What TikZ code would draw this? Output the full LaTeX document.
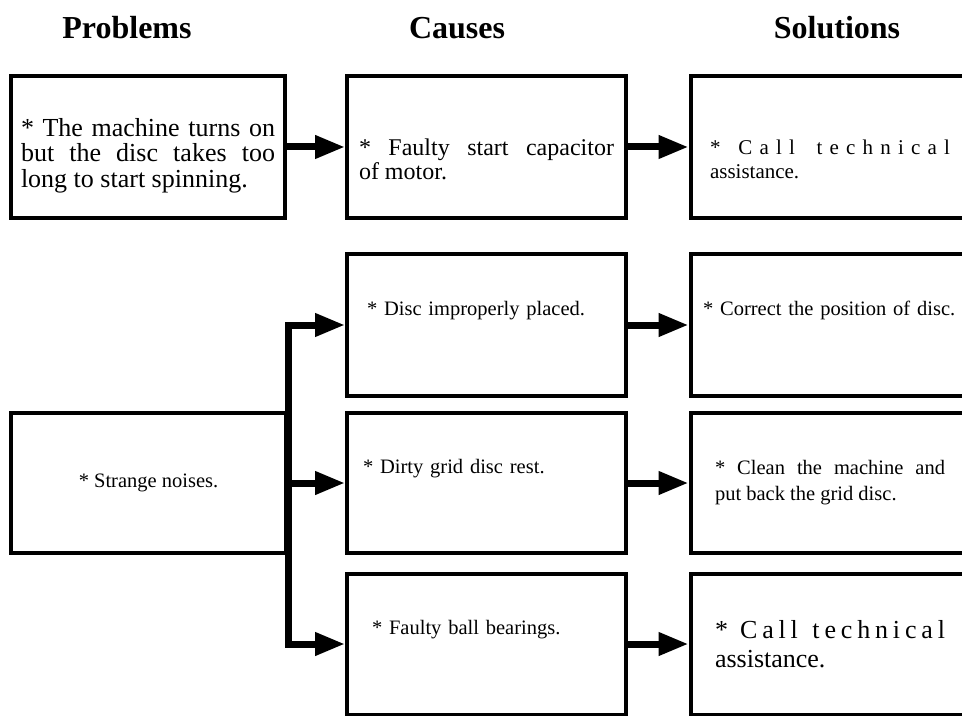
\documentclass[tikz,border=0pt]{standalone}
\usepackage{fontspec}
\setmainfont{Liberation Serif}
\usetikzlibrary{arrows.meta}

\tikzset{bx/.style={draw, line width=2pt, rectangle, minimum width=139.5pt, minimum height=71pt, inner sep=0pt}}
\tikzset{fl/.style={line width=3.5pt, -{Triangle[length=15pt,width=11pt]}}}
\tikzset{lift/.style={text depth=17pt}, drop/.style={text depth=-8pt}}
\tikzset{hd/.style={font=\fontsize{16}{18}\selectfont\bfseries}}
\newcommand\spreadcall{\hbox to \hsize{*\hskip 0pt plus 2.5fill C\hfill a\hfill l\hfill l\hskip 0pt plus 3fill t\hfill e\hfill c\hfill h\hfill n\hfill i\hfill c\hfill a\hfill l}}

\begin{document}
\begin{tikzpicture}[x=0.5pt, y=-0.5pt]
\useasboundingbox (0,0) rectangle (962,716);
\clip (0,0) rectangle (962,716);
\tikzstyle{sm}=[font=\fontsize{10.25}{13}\selectfont]
% column titles
\node[hd] (hp) at (127,28) {Problems};
\node[hd] (hc) at (457,28) {Causes};
\node[hd] (hs) at (837,28) {Solutions};
% first problem
\node[bx, text depth=20pt, minimum width=137pt, text width=127pt, align=justify, font=\fontsize{13}{12.75}\selectfont] (p1) at (148,147)
  {* The machine turns on\linebreak but the disc takes too\linebreak long to start spinning.};
\node[bx, drop, text width=127.5pt, align=justify, font=\fontsize{12}{12}\selectfont] (c1) at (486.5,147)
  {* Faulty start capacitor\linebreak of motor.};
\node[bx, drop, text width=120pt, align=left, font=\fontsize{10.5}{12}\selectfont] (s1) at (830,147)
  {\spreadcall\\assistance.};
% second problem
\node[bx, sm, minimum width=137.5pt, minimum height=70pt, align=center] (p2) at (148.5,483) {* Strange noises.};
\node[bx, sm, lift, text width=119.5pt, align=left] (c2) at (486.5,325) {* Disc improperly placed.};
\node[bx, sm, lift, minimum height=70pt, text width=123.5pt, align=left] (c3) at (486.5,483) {* Dirty grid disc rest.};
\node[bx, sm, lift, minimum height=70.5pt, text width=114.5pt, align=left] (c4) at (486.5,644) {* Faulty ball bearings.};
\node[bx, sm, lift, text width=127pt, align=left] (s2) at (830,325) {* Correct the position of disc.};
\node[bx, sm, minimum height=70pt, text width=115pt, align=justify] (s3) at (830,483)
  {* Clean the machine and\linebreak put back the grid disc.};
\node[bx, minimum height=70.5pt, text width=115pt, align=left, font=\fontsize{13}{14.5}\selectfont] (s4) at (830,644)
  {\spreadcall\\assistance.};
% arrows
\draw[fl] (p1) -- (c1);
\draw[fl] (c1) -- (s1);
\draw[fl, {Triangle[length=15pt,width=11pt]}-{Triangle[length=15pt,width=11pt]}, line join=miter]
  (c4.west) -- (c4.west -| p2.east) |- (c2.west);
\draw[fl] (c3.west -| p2.east) -- (c3.west);
\draw[fl] (c2) -- (s2);
\draw[fl] (c3) -- (s3);
\draw[fl] (c4) -- (s4);
\end{tikzpicture}
\end{document}
